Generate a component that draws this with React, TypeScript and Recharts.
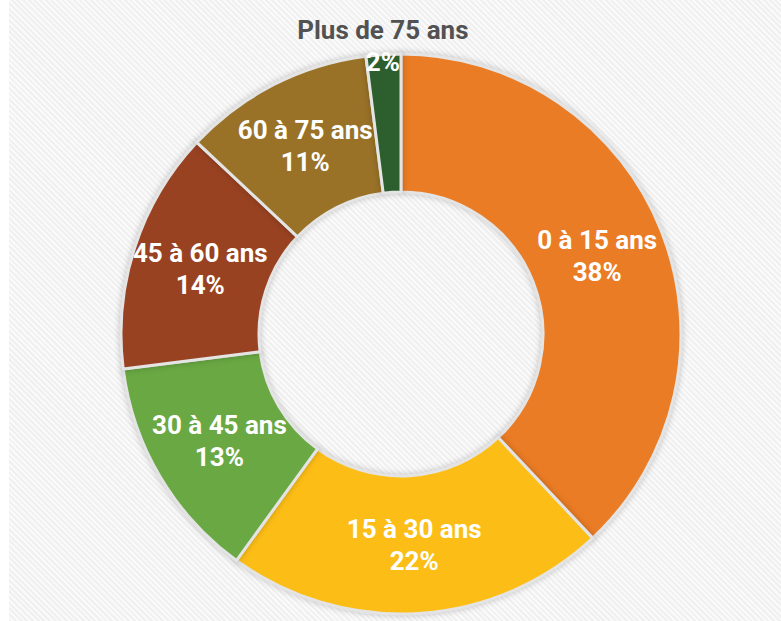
import React from 'react';
import { PieChart, Pie, Cell } from 'recharts';

const categories = ['0 à 15 ans', '15 à 30 ans', '30 à 45 ans', '45 à 60 ans', '60 à 75 ans', 'Plus de 75 ans'];
const shares = [38, 22, 13, 14, 11, 2];
const colors = ['#EA7C25', '#FCBE16', '#69A843', '#984222', '#997228', '#2D5F2E'];

const data = categories.map((name, i) => ({ name, value: shares[i] }));

const RADIAN = Math.PI / 180;
const FONT = 'Roboto, "Noto Sans", sans-serif';

const renderLabel = (props: any) => {
  const { cx, cy, midAngle, innerRadius, outerRadius, index } = props;
  const value = shares[index];
  const name = categories[index];
  const small = value < 5;
  const r = small ? outerRadius + 9 : (innerRadius + outerRadius) / 2;
  const x = cx + r * Math.cos(-midAngle * RADIAN);
  const y = cy + r * Math.sin(-midAngle * RADIAN);
  return (
    <g>
      <text
        x={x}
        y={y - 16}
        textAnchor="middle"
        dominantBaseline="central"
        fill={small ? '#525252' : '#ffffff'}
        fontFamily={FONT}
        fontWeight={700}
        fontSize={26}
      >
        {name}
      </text>
      <text
        x={x}
        y={y + 16}
        textAnchor="middle"
        dominantBaseline="central"
        fill="#ffffff"
        fontFamily={FONT}
        fontWeight={700}
        fontSize={26}
      >
        {value + '%'}
      </text>
    </g>
  );
};

export default function App() {
  return (
    <div style={{ position: 'fixed', left: 0, top: 0, width: 781, height: 621, background: '#ffffff', overflow: 'hidden' }}>
      <style>{`.recharts-pie-sector path { filter: drop-shadow(0 0 3px rgba(0,0,0,0.22)); }`}</style>
      <div
        style={{
          position: 'absolute',
          left: 9,
          top: 0,
          width: 772,
          height: 621,
          background: 'repeating-linear-gradient(45deg, #f0f0f0 0px, #f0f0f0 2px, #fafafa 2px, #fafafa 4px)',
        }}
      />
      <div style={{ position: 'absolute', left: 0, top: 0 }}>
        <PieChart width={781} height={621} margin={{ top: 0, right: 0, bottom: 0, left: 0 }}>
          <Pie
            data={data}
            dataKey="value"
            nameKey="name"
            cx={401}
            cy={334}
            innerRadius={142}
            outerRadius={280}
            startAngle={90}
            endAngle={-270}
            stroke="#e4e4e4"
            strokeWidth={3}
            label={renderLabel}
            labelLine={false}
            isAnimationActive={false}
          >
            {data.map((d, i) => (
              <Cell key={d.name} fill={colors[i]} />
            ))}
          </Pie>
        </PieChart>
      </div>
    </div>
  );
}
